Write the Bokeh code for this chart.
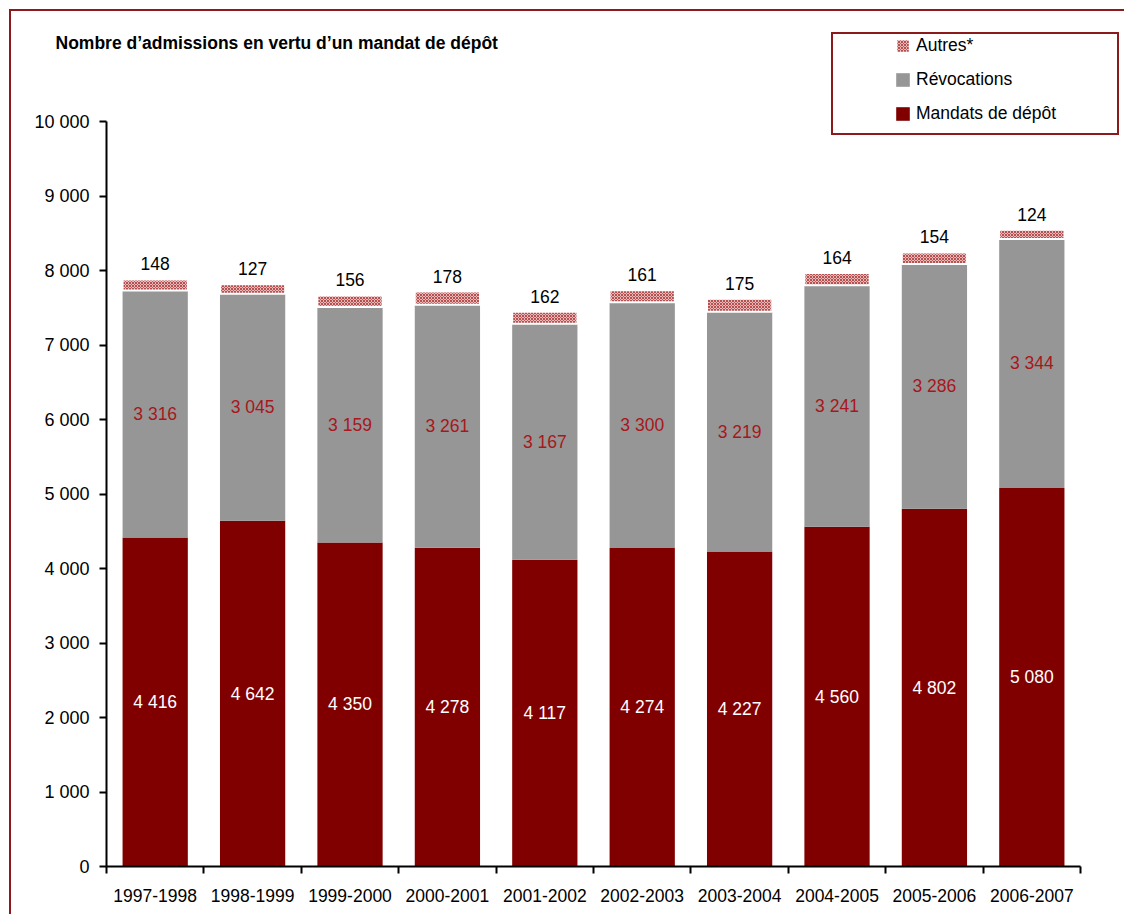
from bokeh.plotting import figure
from bokeh.models import (ColumnDataSource, Range1d, LinearAxis,
                          FixedTicker, Legend, LegendItem, Label)
from bokeh.embed import file_html
from bokeh.resources import INLINE
from bokeh.core.properties import value

# ---------------- data ----------------
periods = ["1997-1998", "1998-1999", "1999-2000", "2000-2001", "2001-2002",
           "2002-2003", "2003-2004", "2004-2005", "2005-2006", "2006-2007"]
mandats = [4416, 4642, 4350, 4278, 4117, 4274, 4227, 4560, 4802, 5080]
revocations = [3316, 3045, 3159, 3261, 3167, 3300, 3219, 3241, 3286, 3344]
autres = [148, 127, 156, 178, 162, 161, 175, 164, 154, 124]
y_ticks = [0, 1000, 2000, 3000, 4000, 5000, 6000, 7000, 8000, 9000, 10000]
y_tick_labels = ["0", "1 000", "2 000", "3 000", "4 000", "5 000", "6 000",
                 "7 000", "8 000", "9 000", "10 000"]
series_names = ["Autres*", "Révocations", "Mandats de dépôt"]
title_text = "Nombre d\u2019admissions en vertu d\u2019un mandat de dépôt"

FONT = "Liberation Sans"
MAROON = "#800000"
GREY = "#969696"
FRAME_RED = "#8B1A1A"


def fmt(v):
    return f"{v:,}".replace(",", " ")


n = len(periods)
x_pos = [i + 0.5 for i in range(n)]          # category centres
boundaries = list(range(n + 1))              # category boundaries
m_top = list(mandats)
r_top = [m + r for m, r in zip(mandats, revocations)]
a_top = [t + a for t, a in zip(r_top, autres)]
src = ColumnDataSource(dict(
    x=x_pos, period=periods,
    m_top=m_top, r_top=r_top, a_top=a_top,
    m_mid=[m / 2 for m in mandats],
    r_mid=[m + r / 2 for m, r in zip(mandats, revocations)],
    m_lab=[fmt(v) for v in mandats],
    r_lab=[fmt(v) for v in revocations],
    a_lab=[fmt(v) for v in autres],
))

TOP = 20           # height of the strip above the plotting frame
p = figure(width=1115, height=905,
           x_range=Range1d(0, 10.472),
           y_range=Range1d(0, (855 - TOP) / 745 * 10000),
           x_axis_location=None, y_axis_location=None,
           output_backend="svg", toolbar_location=None,
           min_border_left=95, min_border_right=0,
           min_border_top=TOP, min_border_bottom=50,
           outline_line_color=None,
           background_fill_color="white", border_fill_color="white")
for g in p.grid:
    g.grid_line_color = None
p.styles = {"margin-left": "9px", "margin-top": "9px",
            "border-left": f"2px solid {FRAME_RED}",
            "border-top": f"2px solid {FRAME_RED}"}

# x axes: tick marks at category boundaries, labels at category centres
tick_axis = LinearAxis(ticker=FixedTicker(ticks=boundaries), bounds=(0, n),
                       major_label_overrides={float(b): "" for b in boundaries},
                       major_tick_in=0, major_tick_out=7,
                       major_tick_line_width=2, axis_line_width=2,
                       minor_tick_line_color=None,
                       major_label_text_font_size="1px", major_label_standoff=0)
label_axis = LinearAxis(ticker=FixedTicker(ticks=x_pos),
                        major_label_overrides={float(x): s for x, s in zip(x_pos, periods)},
                        axis_line_color=None, major_tick_line_color=None,
                        major_tick_out=0, major_tick_in=0,
                        minor_tick_line_color=None,
                        major_label_standoff=15,
                        major_label_text_font=FONT,
                        major_label_text_font_size="17.5px",
                        major_label_text_color="black")
p.add_layout(tick_axis, "below")
p.add_layout(label_axis, "below")

yaxis = LinearAxis(ticker=FixedTicker(ticks=y_ticks), bounds=(0, 10000),
                   major_label_overrides={float(t): l for t, l in zip(y_ticks, y_tick_labels)},
                   major_tick_in=0, major_tick_out=7,
                   major_tick_line_width=2, axis_line_width=2,
                   minor_tick_line_color=None,
                   major_label_standoff=10,
                   major_label_text_font=FONT,
                   major_label_text_font_size="18px",
                   major_label_text_color="black")
p.add_layout(yaxis, "left")

# bars
W = 0.67
mb = p.vbar(x="x", bottom=0, top="m_top", width=W, fill_color=MAROON,
            line_color=None, source=src)
rb = p.vbar(x="x", bottom="m_top", top="r_top", width=W, fill_color=GREY,
            line_color=None, source=src)
ab = p.vbar(x="x", bottom="r_top", top="a_top", width=W,
            fill_color="#e8b8b8", hatch_pattern="diagonal_cross",
            hatch_color="#b45050", hatch_scale=3, hatch_weight=1,
            line_color="white", line_width=2, source=src)

# value labels
p.text(x="x", y="m_mid", text="m_lab", source=src, text_color="white",
       text_align="center", text_baseline="middle",
       text_font=value(FONT), text_font_size="17.5px")
p.text(x="x", y="r_mid", text="r_lab", source=src, text_color="#a8171c",
       text_align="center", text_baseline="middle",
       text_font=value(FONT), text_font_size="17.5px")
p.text(x="x", y="a_top", text="a_lab", source=src, text_color="black",
       text_align="center", text_baseline="bottom", y_offset=-9,
       text_font=value(FONT), text_font_size="17.5px")

# title (in the strip above the frame, so it may start left of the y axis)
p.add_layout(Label(x=-51, y=-11, x_units="screen", y_units="screen",
                   text=title_text, text_font=FONT,
                   text_font_style="bold", text_font_size="17.5px",
                   text_baseline="middle", text_align="left",
                   text_color="black"), "above")

# legend frame
dummy = p.scatter(x=[], y=[], fill_alpha=0, line_alpha=0)
leg_box = Legend(items=[LegendItem(label=" ", renderers=[dummy])],
                 location=(725, 731), padding=0, margin=0, spacing=0,
                 glyph_width=1, glyph_height=99, label_width=283,
                 label_height=99, label_standoff=0,
                 border_line_color=FRAME_RED, border_line_width=2,
                 border_line_alpha=1,
                 background_fill_color="white", background_fill_alpha=1)
p.add_layout(leg_box, "center")

legend = Legend(items=[LegendItem(label=series_names[0], renderers=[ab]),
                       LegendItem(label=series_names[1], renderers=[rb]),
                       LegendItem(label=series_names[2], renderers=[mb])],
                location=(788, 742), padding=0, margin=0, spacing=13,
                glyph_width=17, glyph_height=17, label_height=20,
                label_standoff=5, border_line_color=None,
                background_fill_alpha=0,
                label_text_font=FONT, label_text_font_size="17.5px",
                label_text_color="black")
p.add_layout(legend, "center")

open("out.html", "w").write(file_html(p, INLINE))
